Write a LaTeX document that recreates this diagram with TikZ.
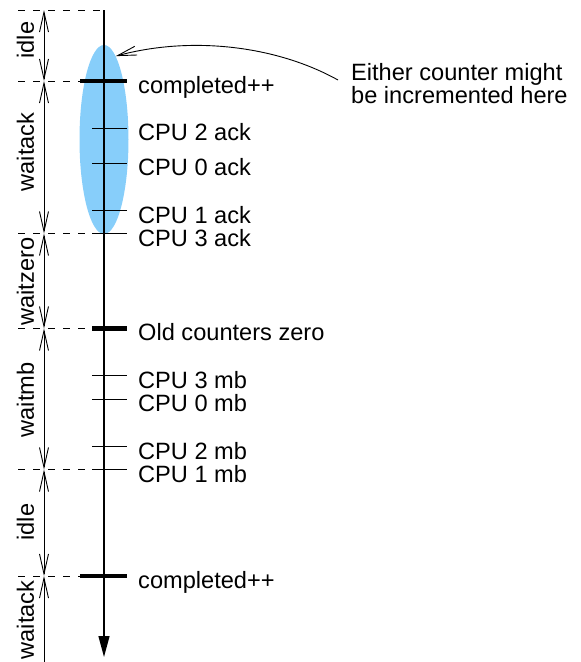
\documentclass[tikz,border=0pt]{standalone}
\usepackage{fontspec}
\setmainfont{Liberation Sans}
\usetikzlibrary{arrows.meta,shapes.geometric}
\definecolor{ovalblue}{RGB}{135,206,250}
\begin{document}
\begin{tikzpicture}[x=1pt,y=-1pt,
  lbl/.style={anchor=base west, inner sep=0pt, font=\fontsize{23.6}{21.7}\selectfont},
  phase/.style={anchor=base, rotate=90, inner sep=0pt, font=\fontsize{23.6}{26}\selectfont},
  guide/.style={dash pattern=on 7pt off 8pt, line width=1pt},
  thintick/.style={line width=1pt},
  thicktick/.style={line width=4.5pt},
  barb/.tip={Straight Barb[length=20pt,width=9pt]},
  dimline/.style={line width=0.9pt, barb-barb},
  timeline/.style={line width=1.3pt, -{Triangle[length=21pt,width=11pt]}},
  pointer/.style={line width=0.9pt, -{Straight Barb[length=19pt,width=9pt]}}
]
\useasboundingbox (0,0) rectangle (581,662);

% highlighted region
\node[ellipse, fill=ovalblue, minimum width=49pt, minimum height=189pt, inner sep=0pt] (oval) at (104,139.5) {};

% guide lines
\foreach \n/\y in {0/10, 1/81, 2/233.5, 3/328.5, 4/469.5, 5/576} {
  \coordinate (gl\n) at (18,\y);
  \coordinate (gr\n) at (104,\y);
  \draw[guide] (gl\n) -- (gr\n);
}

% time line
\coordinate (ttop) at (104,10);
\coordinate (tbot) at (104,657);
\draw[timeline] (ttop) -- (tbot);

% thin ticks
\foreach \n/\y in {a/128, b/163, c/210.5, d/233.5, e/375, f/399, g/446.5, h/469.5} {
  \coordinate (tl\n) at (92,\y);
  \coordinate (tr\n) at (127,\y);
  \draw[thintick] (tl\n) -- (tr\n);
}
% thick ticks
\coordinate (kl1) at (80,81);    \coordinate (kr1) at (127,81);
\coordinate (kl2) at (92,328.5); \coordinate (kr2) at (127,328.5);
\coordinate (kl3) at (80,576);   \coordinate (kr3) at (127,576);
\draw[thicktick] (kl1) -- (kr1);
\draw[thicktick] (kl2) -- (kr2);
\draw[thicktick] (kl3) -- (kr3);

% event labels
\node[lbl] (e1) at (138,93.5) {completed++};
\node[lbl] (e2) at (138,140.5) {CPU 2 ack};
\node[lbl] (e3) at (138,175.5) {CPU 0 ack};
\node[lbl] (e4) at (138,223) {CPU 1 ack};
\node[lbl] (e5) at (138,246) {CPU 3 ack};
\node[lbl] (e6) at (138,340) {Old counters zero};
\node[lbl] (e7) at (138,388) {CPU 3 mb};
\node[lbl] (e8) at (138,411.5) {CPU 0 mb};
\node[lbl] (e9) at (138,459.5) {CPU 2 mb};
\node[lbl] (e10) at (138,482.5) {CPU 1 mb};
\node[lbl] (e11) at (138,588.5) {completed++};

% phase dimension arrows
\foreach \n/\y in {0/10, 1/81, 2/233.5, 3/328.5, 4/469.5, 5/576, 6/662} {
  \coordinate (d\n) at (44,\y);
}
\draw[dimline] (d0) -- (d1);
\draw[dimline] (d1) -- (d2);
\draw[dimline] (d2) -- (d3);
\draw[dimline] (d3) -- (d4);
\draw[dimline] (d4) -- (d5);
\draw[line width=0.9pt, barb-] (d5) -- (d6);

% phase labels
\node[phase] (p1) at (34,40) {idle};
\node[phase] (p2) at (34,152) {waitack};
\node[phase] (p3) at (34,281.5) {waitzero};
\node[phase] (p4) at (34,400) {waitmb};
\node[phase] (p5) at (34,522) {idle};
\node[phase] (p6) at (34,620) {waitack};

% annotation
\node[lbl, align=left] (note) at (351,103.3) {Either counter might\\be incremented here};
\coordinate (nstart) at (338,80);
\draw[pointer] (nstart) .. controls (275,45) and (190,36) .. (oval.82);
\end{tikzpicture}
\end{document}
